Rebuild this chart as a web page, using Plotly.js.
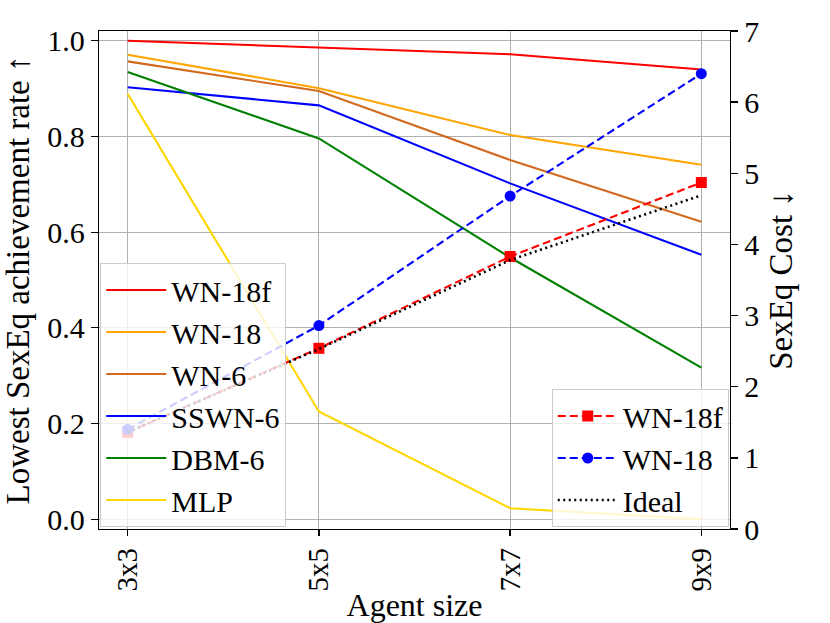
<!DOCTYPE html>
<html>
<head>
<meta charset="utf-8">
<script src="https://cdn.plot.ly/plotly-3.0.1.min.js"></script>
<style>
  html, body { margin: 0; padding: 0; background: #fff; }
  #chart { width: 830px; height: 623px; }
</style>
</head>
<body>
<div id="chart"></div>
<script>
// Categories
const agentSizes = ['3x3', '5x5', '7x7', '9x9'];

// Lowest SexEq achievement rate (left axis)
const rateWN18f = [1.000, 0.986, 0.972, 0.940];
const rateWN18  = [0.971, 0.901, 0.803, 0.741];
const rateWN6   = [0.957, 0.895, 0.751, 0.622];
const rateSSWN6 = [0.903, 0.865, 0.702, 0.553];
const rateDBM6  = [0.935, 0.796, 0.547, 0.317];
const rateMLP   = [0.889, 0.225, 0.023, 0.000];

// SexEq cost (right axis)
const costWN18f = [1.36, 2.54, 3.83, 4.87];
const costWN18  = [1.40, 2.86, 4.68, 6.40];
const costIdeal = [1.36, 2.53, 3.78, 4.69];

const leftTicks = [0.0, 0.2, 0.4, 0.6, 0.8, 1.0];
const leftTickText = ['0.0', '0.2', '0.4', '0.6', '0.8', '1.0'];
const rightTicks = [0, 1, 2, 3, 4, 5, 6, 7];

const FONT = 'Liberation Serif, Times New Roman, serif';

function rateTrace(name, y, color) {
  return {
    x: agentSizes, y: y, name: name, type: 'scatter', mode: 'lines',
    line: { color: color, width: 2.1 }, yaxis: 'y', legend: 'legend'
  };
}

const traces = [
  rateTrace('WN-18f', rateWN18f, '#ff0000'),
  rateTrace('WN-18', rateWN18, '#ffa500'),
  rateTrace('WN-6', rateWN6, '#d2691e'),
  rateTrace('SSWN-6', rateSSWN6, '#0000ff'),
  rateTrace('DBM-6', rateDBM6, '#008000'),
  rateTrace('MLP', rateMLP, '#ffd700'),
  {
    x: agentSizes, y: costWN18f, name: 'WN-18f', type: 'scatter', mode: 'lines+markers',
    line: { color: '#ff0000', width: 2.1, dash: '8px,4px' },
    marker: { symbol: 'square', size: 11, color: '#ff0000' },
    yaxis: 'y2', legend: 'legend2'
  },
  {
    x: agentSizes, y: costWN18, name: 'WN-18', type: 'scatter', mode: 'lines+markers',
    line: { color: '#0000ff', width: 2.1, dash: '8px,4px' },
    marker: { symbol: 'circle', size: 11, color: '#0000ff' },
    yaxis: 'y2', legend: 'legend2'
  },
  {
    x: agentSizes, y: costIdeal, name: 'Ideal', type: 'scatter', mode: 'lines',
    line: { color: '#000000', width: 2.6, dash: '2px,3.5px' },
    yaxis: 'y2', legend: 'legend2'
  }
];

const layout = {
  width: 830, height: 623,
  margin: { l: 99, r: 100, t: 31, b: 94, pad: 0 },
  paper_bgcolor: '#ffffff', plot_bgcolor: '#ffffff',
  font: { family: FONT, size: 30, color: '#000' },
  showlegend: true,
  xaxis: {
    type: 'category', range: [-0.15, 3.15],
    showgrid: true, gridcolor: '#b0b0b0', gridwidth: 1.1,
    showline: true, linecolor: '#000', linewidth: 1.3, mirror: true,
    ticks: 'outside', ticklen: 6, tickcolor: '#000', tickwidth: 1.3,
    tickangle: -90,
    tickfont: { family: FONT, size: 29 },
    title: { text: 'Agent size', font: { family: FONT, size: 32 }, standoff: 8 },
    zeroline: false
  },
  yaxis: {
    range: [-0.0205, 1.0205],
    tickvals: leftTicks, ticktext: leftTickText,
    showgrid: true, gridcolor: '#b0b0b0', gridwidth: 1.1,
    showline: true, linecolor: '#000', linewidth: 1.3,
    ticks: 'outside', ticklen: 7, tickcolor: '#000', tickwidth: 1.3,
    tickfont: { family: FONT, size: 30 },
    title: { text: 'Lowest SexEq achievement rate ↑', font: { family: FONT, size: 33 }, standoff: 8 },
    zeroline: false
  },
  yaxis2: {
    overlaying: 'y', side: 'right', anchor: 'x',
    range: [0, 7], tickvals: rightTicks,
    showgrid: false,
    showline: true, linecolor: '#000', linewidth: 1.3,
    ticks: 'outside', ticklen: 7, tickcolor: '#000', tickwidth: 1.3,
    tickfont: { family: FONT, size: 30 },
    title: { text: 'SexEq Cost ↓', font: { family: FONT, size: 33 }, standoff: 10 },
    zeroline: false
  },
  legend: {
    x: 0.002, y: 0.004, xanchor: 'left', yanchor: 'bottom',
    bgcolor: 'rgba(255,255,255,0.8)', bordercolor: '#cccccc', borderwidth: 1,
    font: { family: FONT, size: 30 },
    itemwidth: 60, tracegroupgap: 0
  },
  legend2: {
    x: 0.998, y: 0.004, xanchor: 'right', yanchor: 'bottom',
    bgcolor: 'rgba(255,255,255,0.8)', bordercolor: '#cccccc', borderwidth: 1,
    font: { family: FONT, size: 30 },
    itemwidth: 60, tracegroupgap: 0
  }
};

Plotly.newPlot('chart', traces, layout, { displayModeBar: false, staticPlot: true });
</script>
</body>
</html>
